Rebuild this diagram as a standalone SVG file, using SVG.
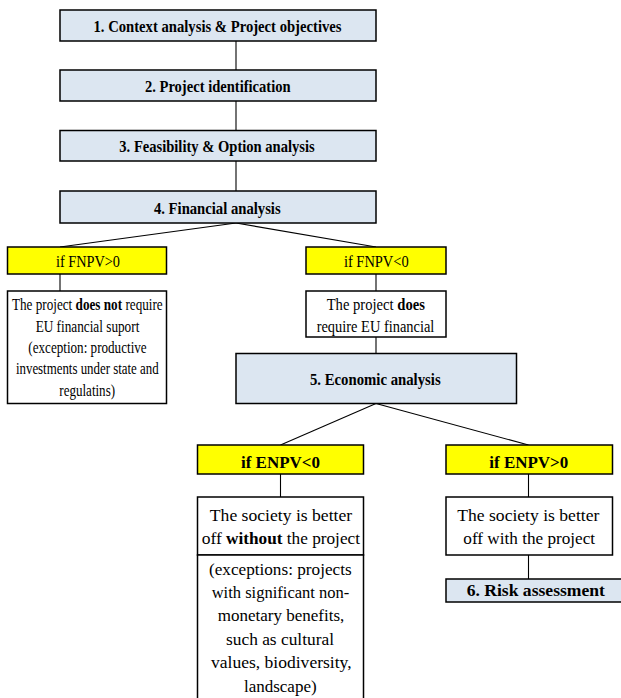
<svg xmlns="http://www.w3.org/2000/svg" width="621" height="698" viewBox="0 0 621 698">
<style>
.step{fill:#dce6f1;stroke:#000;stroke-width:1.5}
.cond{fill:#ffff00;stroke:#000;stroke-width:1.5}
.note{fill:#fff;stroke:#000;stroke-width:1.5}
.con line{stroke:#000;stroke-width:1.1}
text{font-family:"Liberation Serif","Times New Roman",serif;font-size:17px;fill:#000;text-anchor:middle}
text.s{text-anchor:start}
.b{font-weight:bold}
</style>
<rect width="621" height="698" fill="#fff"/>
<g id="connectors" class="con">
<line x1="236" y1="41" x2="236" y2="70"/>
<line x1="236" y1="101" x2="236" y2="130.5"/>
<line x1="236" y1="161" x2="236" y2="191"/>
<line x1="236" y1="223" x2="60" y2="247"/>
<line x1="236" y1="223" x2="376" y2="247"/>
<line x1="60" y1="274" x2="60" y2="291"/>
<line x1="376" y1="274" x2="376" y2="291"/>
<line x1="376" y1="337" x2="376" y2="353.5"/>
<line x1="376" y1="403.5" x2="280.5" y2="445"/>
<line x1="376" y1="403.5" x2="528.5" y2="445"/>
<line x1="280.5" y1="474" x2="280.5" y2="497"/>
<line x1="528.5" y1="474" x2="528.5" y2="497"/>
<line x1="528.5" y1="555" x2="528.5" y2="579"/>
</g>
<g id="n1"><rect class="step" x="60" y="10" width="316" height="31"/><text class="b" x="217.5" y="32" textLength="248" lengthAdjust="spacingAndGlyphs">1. Context analysis &amp; Project objectives</text></g>
<g id="n2"><rect class="step" x="60" y="70" width="316" height="31"/><text class="b" x="217.8" y="92" textLength="145.7" lengthAdjust="spacingAndGlyphs">2. Project identification</text></g>
<g id="n3"><rect class="step" x="60" y="130.5" width="316" height="30.5"/><text class="b" x="217" y="152" textLength="195.3" lengthAdjust="spacingAndGlyphs">3. Feasibility &amp; Option analysis</text></g>
<g id="n4"><rect class="step" x="60" y="191" width="316" height="32"/><text class="b" x="217.3" y="214" textLength="126.7" lengthAdjust="spacingAndGlyphs">4. Financial analysis</text></g>
<g id="c1"><rect class="cond" x="7.5" y="247" width="159" height="27"/><text x="88" y="267" textLength="64" lengthAdjust="spacingAndGlyphs">if FNPV&gt;0</text></g>
<g id="c2"><rect class="cond" x="306" y="247" width="140" height="27"/><text x="376.3" y="267" textLength="64.7" lengthAdjust="spacingAndGlyphs">if FNPV&lt;0</text></g>
<g id="r1"><rect class="note" x="7.5" y="291" width="159" height="112.5"/>
<g transform="translate(12 310) scale(0.775 1)">
<text class="s" x="0" y="0">The project</text>
<text class="s b" x="82.1" y="0">does not</text>
<text class="s" x="146.4" y="0">require</text>
</g>
<text x="87.5" y="331.5" textLength="103.7" lengthAdjust="spacingAndGlyphs">EU financial suport</text>
<text x="87.5" y="353" textLength="118.3" lengthAdjust="spacingAndGlyphs">(exception: productive</text>
<text x="87.3" y="374.3" textLength="142.7" lengthAdjust="spacingAndGlyphs">investments under state and</text>
<text x="87.2" y="395.6" textLength="55.7" lengthAdjust="spacingAndGlyphs">regulatins)</text>
</g>
<g id="r2"><rect class="note" x="306" y="291" width="140" height="46"/>
<g transform="translate(326.7 310) scale(0.86 1)">
<text class="s" x="0" y="0">The project</text>
<text class="s b" x="82.1" y="0">does</text>
</g>
<text x="375.5" y="331.5" textLength="117.7" lengthAdjust="spacingAndGlyphs">require EU financial</text>
</g>
<g id="n5"><rect class="step" x="236" y="353.5" width="280.5" height="50"/><text class="b" x="375.3" y="385" textLength="130.7" lengthAdjust="spacingAndGlyphs">5. Economic analysis</text></g>
<g id="c3"><rect class="cond" x="197.5" y="445" width="166" height="29"/><text class="b" x="280.5" y="468" textLength="79" lengthAdjust="spacingAndGlyphs">if ENPV&lt;0</text></g>
<g id="c4"><rect class="cond" x="446" y="445" width="166.5" height="29"/><text class="b" x="528.8" y="468" textLength="79" lengthAdjust="spacingAndGlyphs">if ENPV&gt;0</text></g>
<g id="r3"><rect class="note" x="197.5" y="497" width="166" height="58"/>
<text x="281" y="521" textLength="142.3" lengthAdjust="spacingAndGlyphs">The society is better</text>
<text class="s" x="201.7" y="544" textLength="20.1" lengthAdjust="spacingAndGlyphs">off</text>
<text class="s b" x="226.1" y="544" textLength="56.4" lengthAdjust="spacingAndGlyphs">without</text>
<text class="s" x="286.8" y="544" textLength="73.2" lengthAdjust="spacingAndGlyphs">the project</text>
</g>
<g id="r4"><rect class="note" x="197.5" y="555" width="166" height="160"/>
<text x="280.3" y="575" textLength="142.7" lengthAdjust="spacingAndGlyphs">(exceptions: projects</text>
<text x="280.5" y="598" textLength="137.7" lengthAdjust="spacingAndGlyphs">with significant non-</text>
<text x="281" y="621" textLength="126.7" lengthAdjust="spacingAndGlyphs">monetary benefits,</text>
<text x="280" y="645" textLength="108" lengthAdjust="spacingAndGlyphs">such as cultural</text>
<text x="281.3" y="668" textLength="140.7" lengthAdjust="spacingAndGlyphs">values, biodiversity,</text>
<text x="280.3" y="691.5" textLength="72.7" lengthAdjust="spacingAndGlyphs">landscape)</text>
</g>
<g id="r5"><rect class="note" x="446" y="497" width="166.5" height="58"/>
<text x="528.3" y="521" textLength="142" lengthAdjust="spacingAndGlyphs">The society is better</text>
<text x="529.2" y="544" textLength="131.7" lengthAdjust="spacingAndGlyphs">off with the project</text>
</g>
<g id="n6"><rect class="step" x="446" y="579" width="180" height="23"/><text class="b" x="535.8" y="596" textLength="138.3" lengthAdjust="spacingAndGlyphs">6. Risk assessment</text></g>
</svg>
